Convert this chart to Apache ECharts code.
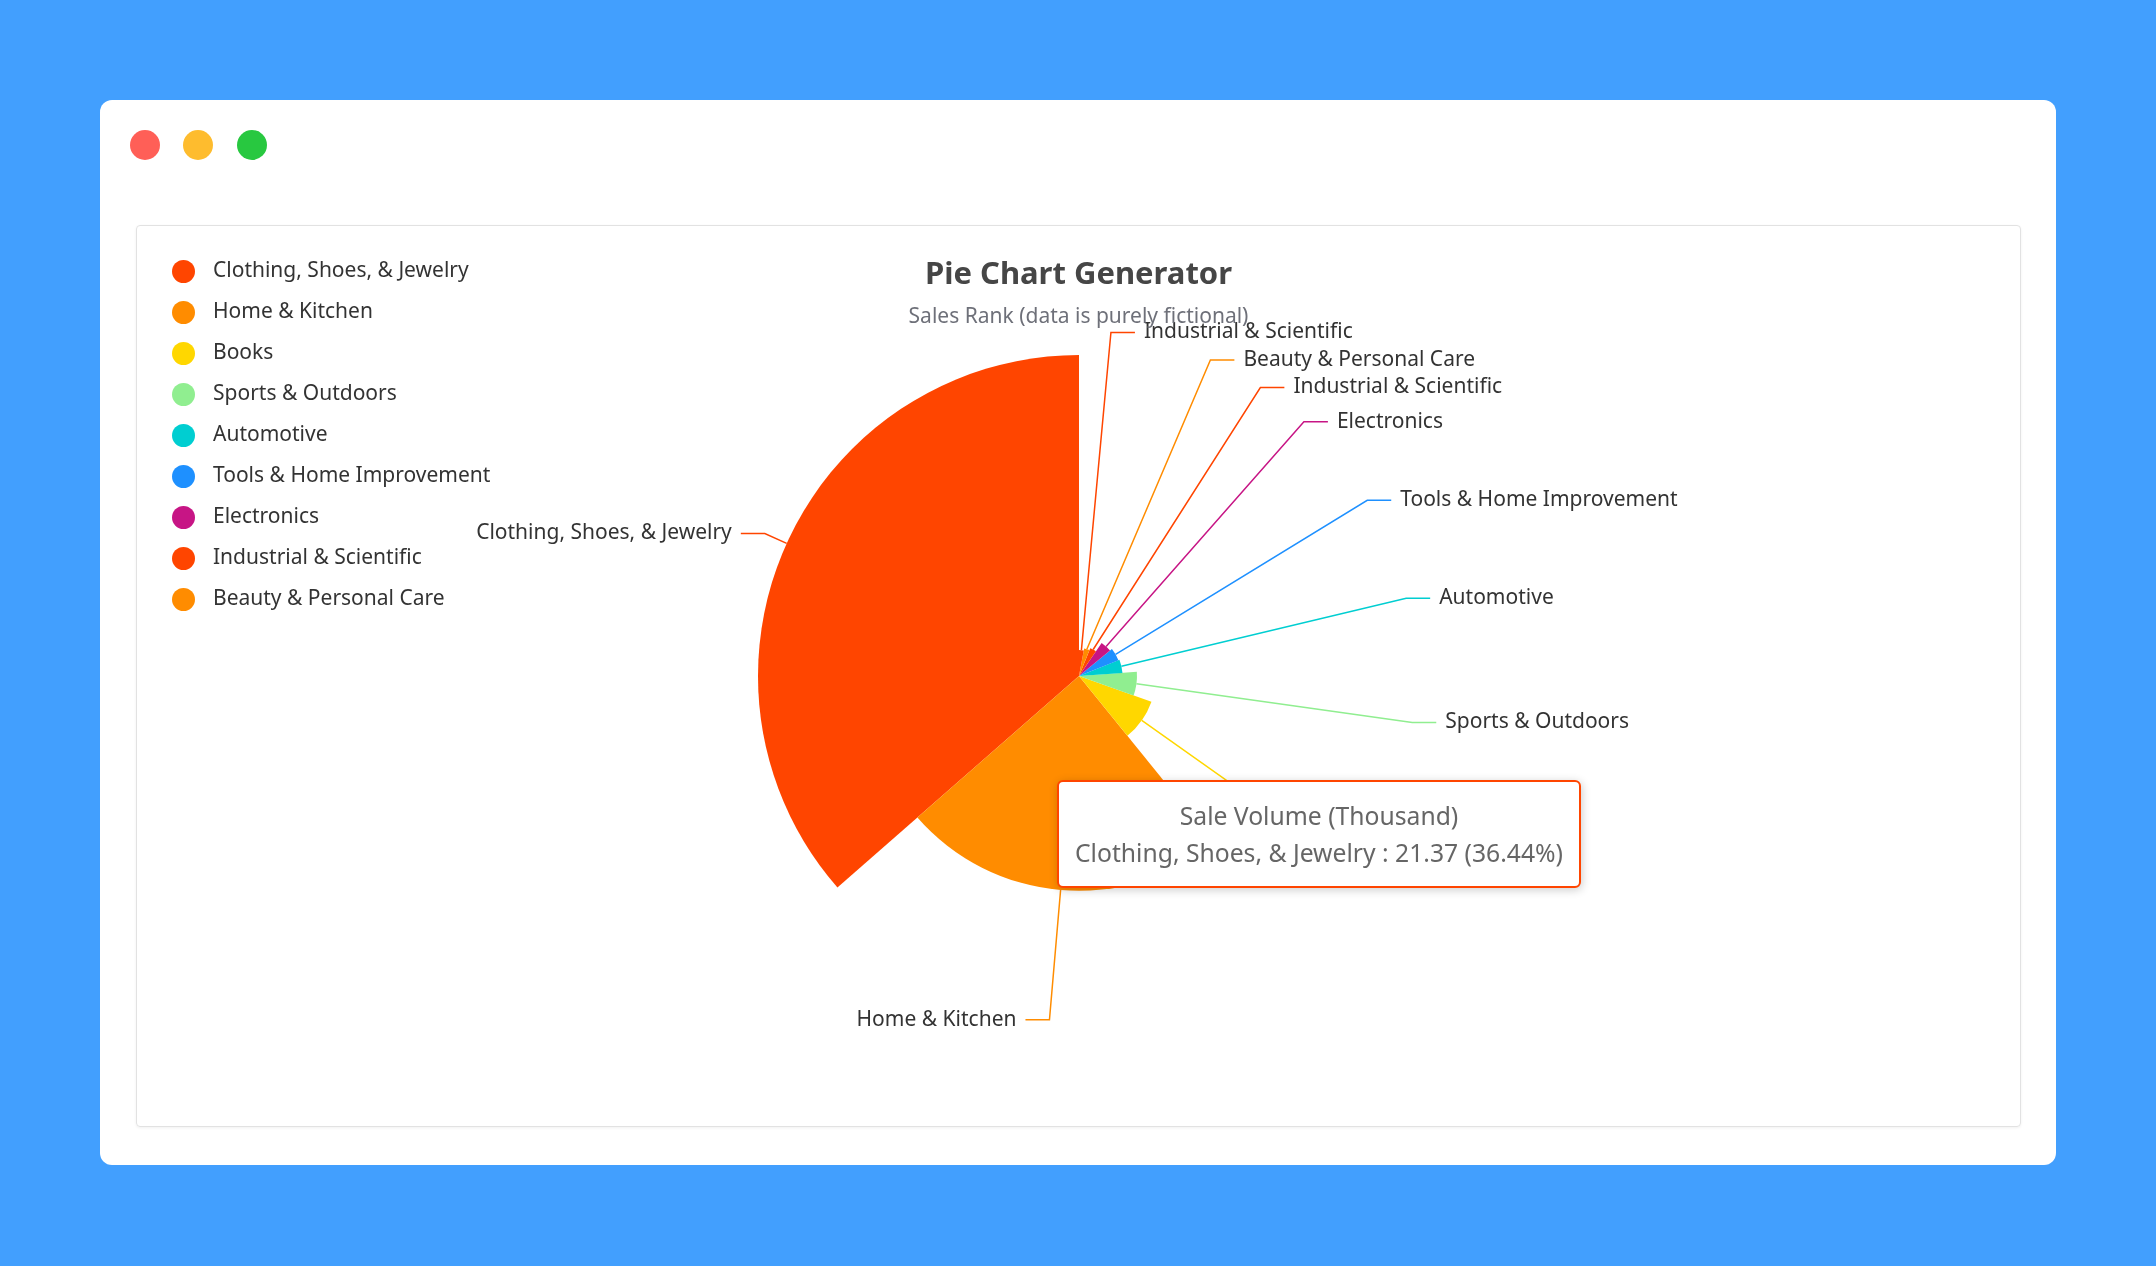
<!DOCTYPE html>
<html>
<head>
<meta charset="utf-8">
<script src="https://cdn.jsdelivr.net/npm/echarts@6/dist/echarts.min.js"></script>
<style>
html,body{margin:0;padding:0;width:2156px;height:1266px;background:#429FFE;overflow:hidden;font-family:"Noto Sans",sans-serif;}
#card{position:absolute;left:100px;top:100px;width:1956px;height:1065px;background:#fff;border-radius:12px;}
.dot{position:absolute;top:30px;width:30px;height:30px;border-radius:50%;}
#box{position:absolute;left:36px;top:125px;width:1883px;height:900px;border:1px solid #e2e2e2;border-radius:4px;box-shadow:0 1px 3px rgba(0,0,0,0.06);}
#chart{width:1883px;height:900px;}
</style>
</head>
<body>
<div id="card">
  <div class="dot" style="left:30px;background:#FF5F57"></div>
  <div class="dot" style="left:83px;background:#FEBC2E"></div>
  <div class="dot" style="left:137px;background:#28C840"></div>
  <div id="box"><div id="chart"></div></div>
</div>
<script>
const categories = ['Clothing, Shoes, & Jewelry', 'Home & Kitchen', 'Books', 'Sports & Outdoors', 'Automotive', 'Tools & Home Improvement', 'Electronics', 'Industrial & Scientific', 'Beauty & Personal Care', 'Industrial & Scientific'];
const saleVolume = [21.37, 14.30, 5.12, 3.86, 2.90, 2.83, 2.67, 2.00, 1.86, 1.73];
const seriesName = 'Sale Volume (Thousand)';
const titleText = 'Pie Chart Generator';
const subtitleText = 'Sales Rank (data is purely fictional)';
const palette = ['#FF4500', '#FF8C00', '#FFD700', '#90EE90', '#00CED1', '#1E90FF', '#C71585'];

const uniqueNames = categories.filter((n, i) => categories.indexOf(n) === i);
const colorOf = n => palette[uniqueNames.indexOf(n) % palette.length];
const FONT = 'Noto Sans';

const chart = echarts.init(document.getElementById('chart'));
chart.setOption({
  animation: false,
  title: {
    text: titleText,
    subtext: subtitleText,
    left: 'center',
    top: 29,
    itemGap: 15,
    textStyle: {fontFamily: FONT, fontSize: 31, fontWeight: 'bold', color: '#464646', lineHeight: 31},
    subtextStyle: {fontFamily: FONT, fontSize: 21, color: '#6E7079', lineHeight: 22}
  },
  legend: {
    orient: 'vertical',
    left: 30,
    top: 29,
    icon: 'circle',
    itemWidth: 49,
    itemHeight: 23,
    itemGap: 18,
    data: uniqueNames,
    textStyle: {fontFamily: FONT, fontSize: 21, color: '#333'}
  },
  tooltip: {
    trigger: 'item',
    formatter: '{a}<br/>{b} : {c} ({d}%)',
    alwaysShowContent: true,
    transitionDuration: 0,
    position: [920, 554],
    padding: [15, 16],
    borderWidth: 2,
    borderRadius: 6,
    backgroundColor: '#fff',
    textStyle: {fontFamily: FONT, fontSize: 24.7, color: '#666'},
    extraCssText: 'text-align:center;line-height:37px;box-shadow:1px 2px 10px rgba(0,0,0,0.2);'
  },
  series: [{
    name: seriesName,
    type: 'pie',
    roseType: 'radius',
    center: [942, 450],
    radius: [0, 321],
    startAngle: 90,
    clockwise: false,
    avoidLabelOverlap: true,
    data: categories.map((n, i) => ({name: n, value: saleVolume[i], itemStyle: {color: colorOf(n)}})),
    label: {fontFamily: FONT, fontSize: 21, color: '#333', lineHeight: 25.5, distanceToLabelLine: 9},
    labelLine: {length: 24, length2: 24, smooth: false, lineStyle: {width: 1.5}}
  }]
});
chart.dispatchAction({type: 'showTip', seriesIndex: 0, dataIndex: 0});
</script>
</body>
</html>
